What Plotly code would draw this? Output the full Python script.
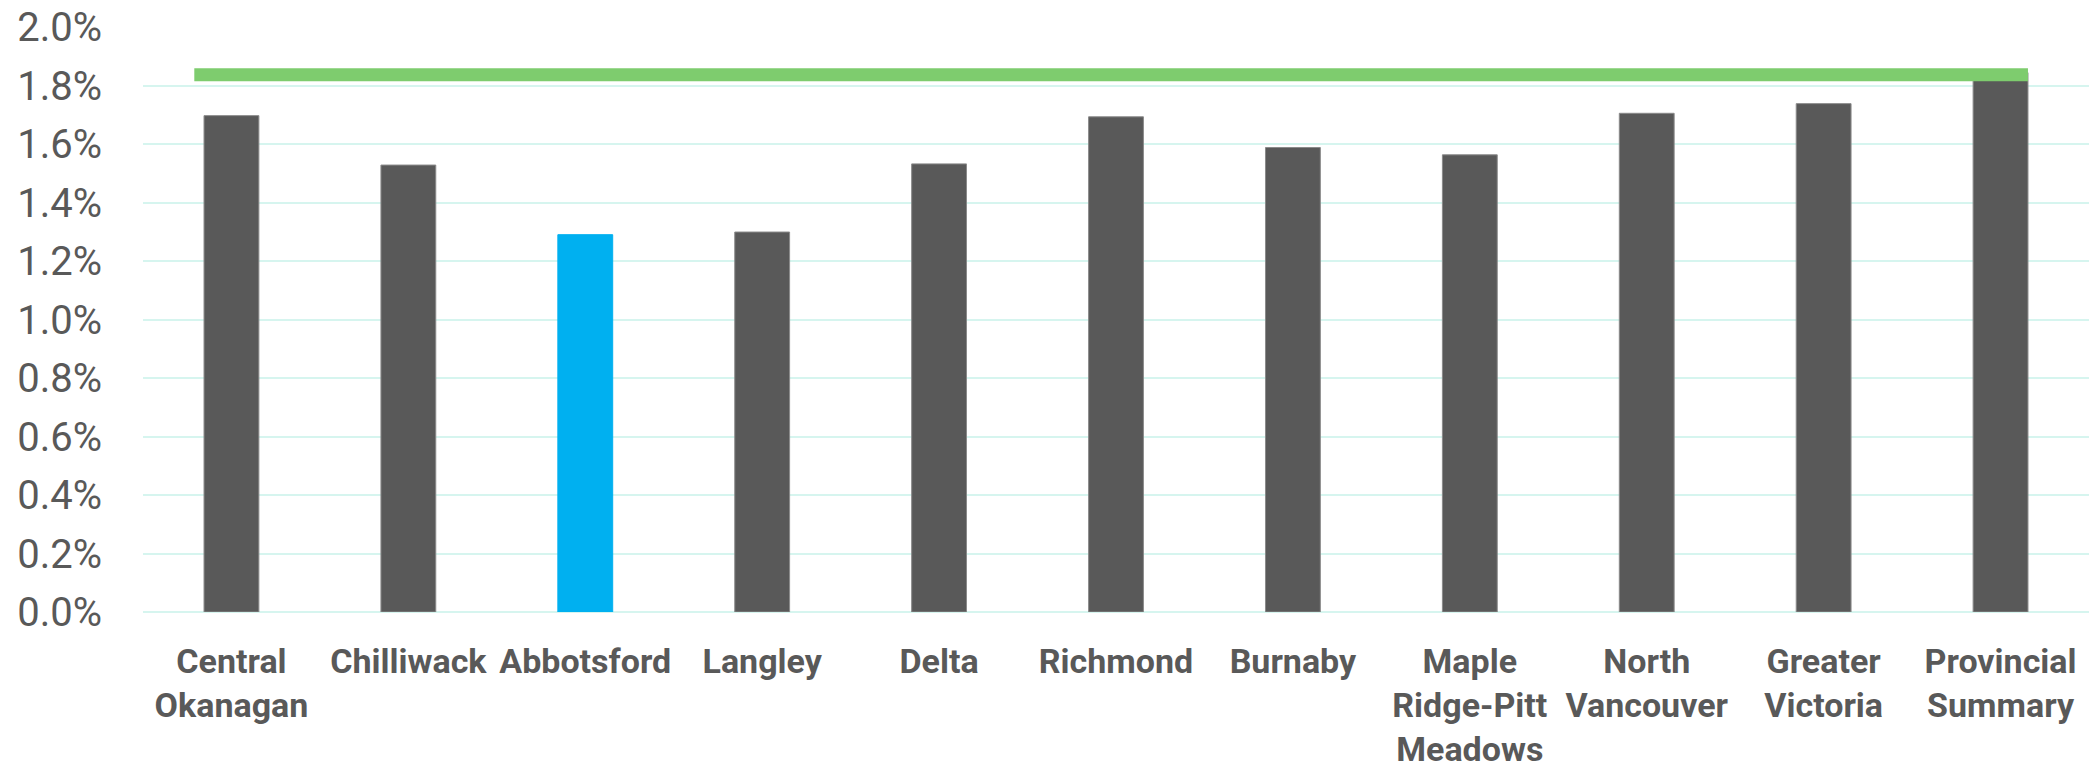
import plotly.graph_objects as go

categories = ["Central<br>Okanagan", "Chilliwack", "Abbotsford", "Langley", "Delta",
              "Richmond", "Burnaby", "Maple<br>Ridge-Pitt<br>Meadows", "North<br>Vancouver",
              "Greater<br>Victoria", "Provincial<br>Summary"]
values = [1.697, 1.528, 1.290, 1.299, 1.532, 1.693, 1.588, 1.563, 1.705, 1.738, 1.844]
provincial_line = 1.837
highlight = "Abbotsford"

y_tickvals = [0.0, 0.2, 0.4, 0.6, 0.8, 1.0, 1.2, 1.4, 1.6, 1.8, 2.0]

bar_w = 0.31
n = len(categories)
xs = list(range(n))
colors = ["#00B0F0" if c == highlight else "#595959" for c in categories]
line_colors = ["#00B0F0" if c == highlight else "#8a8a8a" for c in categories]

fig = go.Figure()
fig.add_trace(go.Bar(
    x=xs, y=[v / 100 for v in values], width=bar_w,
    marker=dict(color=colors, line=dict(color=line_colors, width=1)),
    showlegend=False, hoverinfo="skip",
))
fig.add_trace(go.Scatter(
    x=[xs[0] - bar_w / 2 - 0.055, xs[-1] + bar_w / 2],
    y=[provincial_line / 100] * 2,
    mode="lines", line=dict(color="#7ECC6E", width=13),
    showlegend=False, hoverinfo="skip",
))

fig.update_layout(
    width=2100, height=768,
    margin=dict(l=143, r=11, t=27, b=156, autoexpand=False),
    paper_bgcolor="white", plot_bgcolor="white",
    bargap=0.69,
)
fig.update_xaxes(
    range=[-0.5, n - 0.5], tickmode="array", tickvals=xs, ticktext=categories,
    tickfont=dict(family="Roboto", size=34, color="#595959", weight="bold"),
    showgrid=False, zeroline=False, showline=False, ticks="",
    ticklabelstandoff=26, automargin=False,
)
fig.update_yaxes(
    range=[0, 0.02], tickmode="array", tickvals=[t / 100 for t in y_tickvals],
    ticktext=[f"{t:.1f}%" for t in y_tickvals],
    tickfont=dict(family="Roboto", size=40, color="#595959"),
    showgrid=True, gridcolor="#D6F5EF", gridwidth=2,
    zeroline=True, zerolinecolor="#D6F5EF", zerolinewidth=2,
    showline=False, ticks="", ticklabelstandoff=40, automargin=False,
)

fig.write_html("out.html")
